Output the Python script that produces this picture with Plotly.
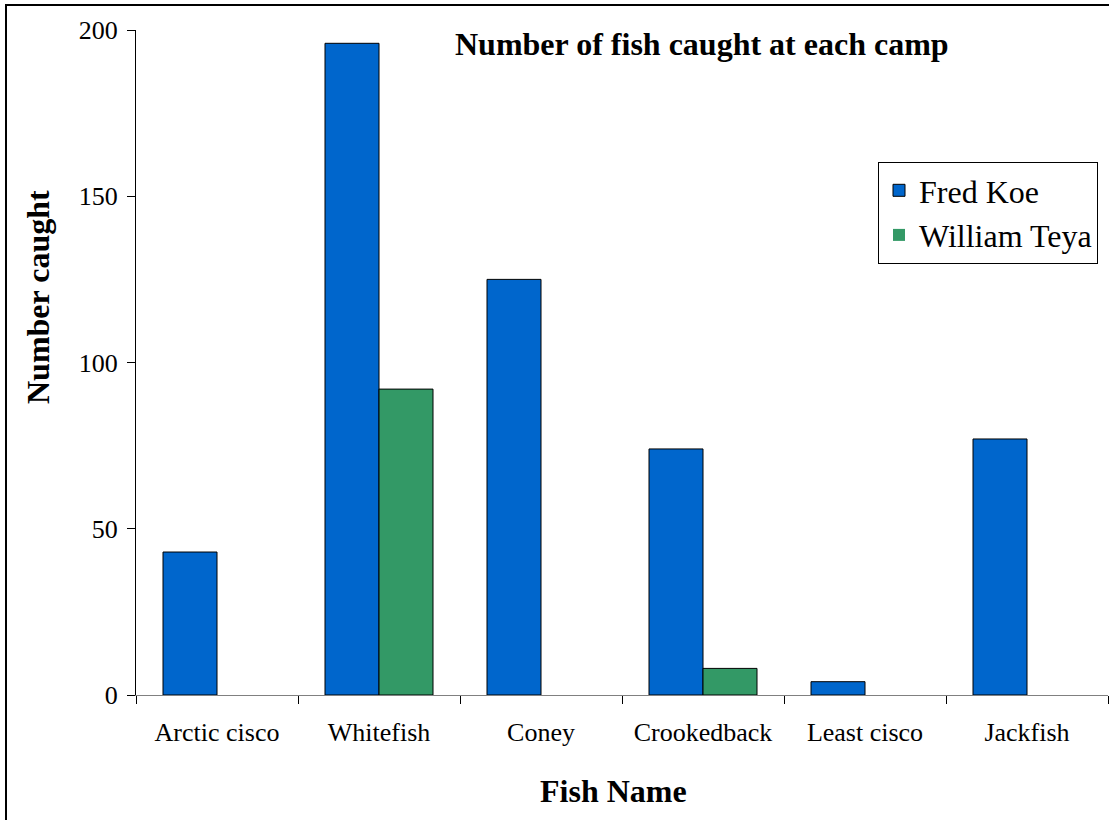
import plotly.graph_objects as go

fish = ["Arctic cisco", "Whitefish", "Coney", "Crookedback", "Least cisco", "Jackfish"]
fred_koe = [43, 196, 125, 74, 4, 77]
william_teya = [0, 92, 0, 8, 0, 0]
y_ticks = [0, 50, 100, 150, 200]

SERIF = "Liberation Serif"


def outline_widths(values):
    # no outline on empty bars so a zero count leaves no mark
    return [1 if v > 0 else 0 for v in values]


fig = go.Figure()
fig.add_trace(go.Bar(
    x=fish, y=fred_koe, name="Fred Koe",
    marker=dict(color="#0066CC", line=dict(color="#000000", width=outline_widths(fred_koe))),
))
fig.add_trace(go.Bar(
    x=fish, y=william_teya, name="William Teya",
    marker=dict(color="#339966", line=dict(color="#000000", width=outline_widths(william_teya))),
))

fig.update_layout(
    width=1109, height=820,
    margin=dict(l=136, r=1, t=30, b=125),
    paper_bgcolor="white", plot_bgcolor="white",
    barmode="group", bargap=1/3, bargroupgap=0,
    font=dict(family=SERIF, size=25, color="black"),
    showlegend=True,
    legend=dict(
        x=(878 - 136) / 972, y=1 - (162 - 30) / 665, xanchor="left", yanchor="top",
        bordercolor="black", borderwidth=1, bgcolor="white",
        font=dict(family=SERIF, size=32),
        tracegroupgap=0,
    ),
    xaxis=dict(
        type="category",
        showline=True, linecolor="#808080", linewidth=1,
        ticks="outside", tickson="boundaries", ticklen=8, tickcolor="black",
        tickfont=dict(family=SERIF, size=26),
        ticklabelstandoff=14,
        showgrid=False, zeroline=False,
    ),
    yaxis=dict(
        range=[0, 200], tickvals=y_ticks,
        showline=True, linecolor="black", linewidth=1,
        ticks="outside", ticklen=8, tickcolor="black",
        tickfont=dict(family=SERIF, size=26),
        ticklabelstandoff=4,
        showgrid=False, zeroline=False,
    ),
    annotations=[
        dict(text="<b>Number of fish caught at each camp</b>", xref="paper", yref="paper",
             x=(702 - 136) / 972, y=1 - (44 - 30) / 665, xanchor="center", yanchor="middle",
             showarrow=False, font=dict(family=SERIF, size=32)),
        dict(text="<b>Fish Name</b>", xref="paper", yref="paper",
             x=(613 - 136) / 972, y=-(791 - 695) / 665, xanchor="center", yanchor="middle",
             showarrow=False, font=dict(family=SERIF, size=32)),
        dict(text="<b>Number caught</b>", xref="paper", yref="paper",
             x=-(136 - 38) / 972, y=1 - (297 - 30) / 665, xanchor="center", yanchor="middle",
             textangle=-90, showarrow=False, font=dict(family=SERIF, size=32)),
    ],
    shapes=[
        dict(type="rect", xref="paper", yref="paper",
             x0=-(136 - 6) / 972, x1=1.05, y0=-0.3, y1=1 + (30 - 5) / 665,
             line=dict(color="black", width=2), fillcolor="rgba(0,0,0,0)", layer="below"),
    ],
)

fig.write_html("out.html")
